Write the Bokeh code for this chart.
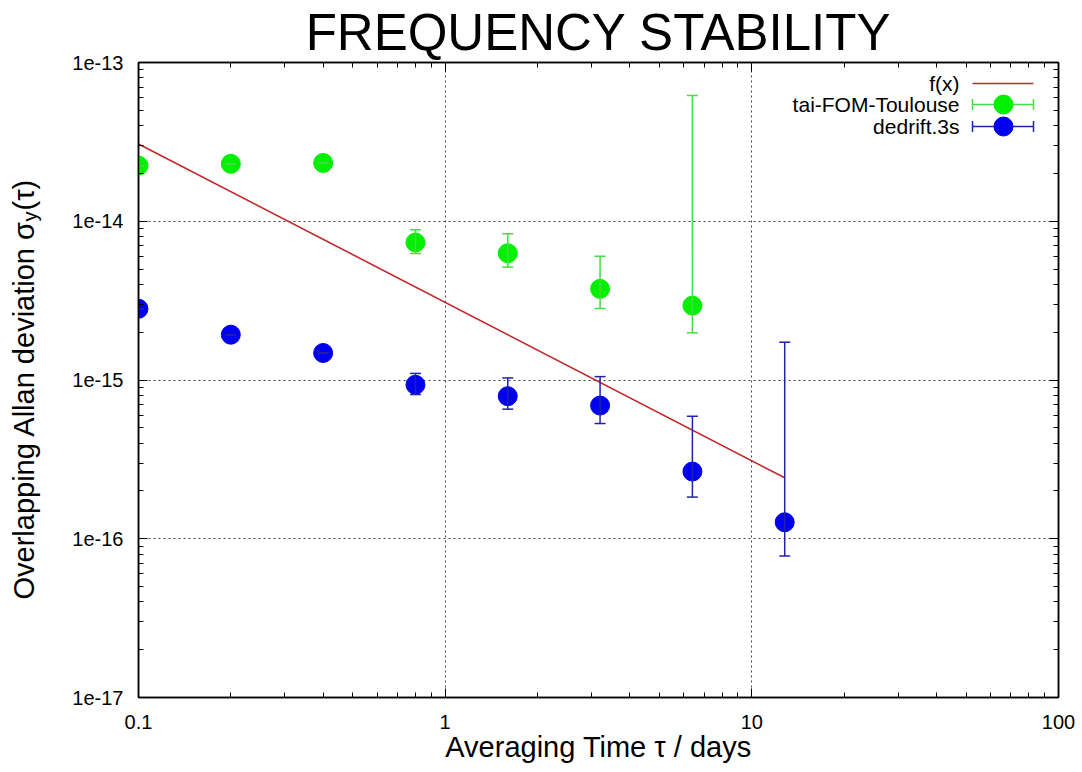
import math
from bokeh.plotting import figure
from bokeh.layouts import row
from bokeh.models import (ColumnDataSource, Whisker, TeeHead, Label, LogAxis,
                          FixedTicker, CustomJSTickFormatter, Range1d, Title)
from bokeh.core.properties import value
from bokeh.embed import file_html
from bokeh.resources import INLINE

# ---------------- data ----------------
title_text = "FREQUENCY STABILITY"
x_label_text = "Averaging Time τ / days"
y_label_main = "Overlapping  Allan deviation σ"
y_label_sub = "y"
y_label_tail = "(τ)"

x_tick_vals = [0.1, 1, 10, 100]
x_tick_labels = ["0.1", "1", "10", "100"]
y_tick_vals = [1e-17, 1e-16, 1e-15, 1e-14, 1e-13]
y_tick_labels = ["1e-17", "1e-16", "1e-15", "1e-14", "1e-13"]

series_names = ["f(x)", "tai-FOM-Toulouse", "dedrift.3s"]

tai_tau = [0.1, 0.2, 0.4, 0.8, 1.6, 3.2, 6.4]
tai_adev = [2.24e-14, 2.30e-14, 2.33e-14, 7.35e-15, 6.29e-15, 3.75e-15, 2.94e-15]
tai_upper = [2.24e-14, 2.30e-14, 2.33e-14, 8.83e-15, 8.34e-15, 6.02e-15, 6.19e-14]
tai_lower = [2.24e-14, 2.30e-14, 2.33e-14, 6.27e-15, 5.14e-15, 2.82e-15, 1.98e-15]

dd_tau = [0.1, 0.2, 0.4, 0.8, 1.6, 3.2, 6.4, 12.8]
dd_adev = [2.81e-15, 1.93e-15, 1.48e-15, 9.33e-16, 7.91e-16, 6.90e-16, 2.65e-16, 1.27e-16]
dd_upper = [2.81e-15, 1.93e-15, 1.48e-15, 1.10e-15, 1.03e-15, 1.05e-15, 5.91e-16, 1.73e-15]
dd_lower = [2.81e-15, 1.93e-15, 1.48e-15, 8.10e-16, 6.55e-16, 5.32e-16, 1.83e-16, 7.80e-17]

fx_tau = [0.1, 12.8]
fx_val = [3.07e-14, 2.42e-16]

# ---------------- style ----------------
FONT = "Liberation Sans"
GREEN = "#00f000"
GREEN_BAR = "#45dd45"
BLUE = "#0000f0"
BLUE_BAR = "#2222a8"
RED = "#c0282a"

LW = 50                                   # width of the y-label strip
FL, FT, FW, FH = 138, 62, 920, 635        # frame position on the page (px)
BOTTOM = 72


def X(px):
    return 10 ** (-1 + (px - FL) / (FW / 3.0))


def Y(py):
    return 10 ** (-13 - (py - FT) / (FH / 4.0))


x_minor = [m * 10.0 ** e for e in range(-1, 2) for m in range(2, 10)]
y_minor = [m * 10.0 ** e for e in range(-17, -13) for m in range(2, 10)]

p = figure(x_axis_type="log", y_axis_type="log",
           x_range=Range1d(0.1, 100), y_range=Range1d(1e-17, 1e-13),
           frame_width=FW, frame_height=FH,
           min_border_left=FL - LW, min_border_right=20,
           min_border_top=FT, min_border_bottom=BOTTOM,
           output_backend="svg", toolbar_location=None,
           background_fill_color="white", border_fill_color="white")

p.outline_line_color = "black"
p.outline_line_width = 1.5

fmt_code = """
let best = 0; let bd = Infinity;
for (let i = 0; i < vals.length; i++) {
  const d = Math.abs(Math.log10(vals[i]) - Math.log10(tick));
  if (d < bd) { bd = d; best = i; }
}
return labels[best];
"""

xa = p.below[0]
xa.ticker = FixedTicker(ticks=x_tick_vals, minor_ticks=x_minor)
xa.formatter = CustomJSTickFormatter(args=dict(vals=x_tick_vals, labels=x_tick_labels), code=fmt_code)
ya = p.left[0]
ya.ticker = FixedTicker(ticks=y_tick_vals, minor_ticks=y_minor)
ya.formatter = CustomJSTickFormatter(args=dict(vals=y_tick_vals, labels=y_tick_labels), code=fmt_code)

top = LogAxis(ticker=FixedTicker(ticks=x_tick_vals, minor_ticks=x_minor))
right = LogAxis(ticker=FixedTicker(ticks=y_tick_vals, minor_ticks=y_minor))

for ax in (xa, ya, top, right):
    ax.major_tick_in = 9
    ax.major_tick_out = 0
    ax.minor_tick_in = 5
    ax.minor_tick_out = 0
    ax.axis_line_color = "black"
    ax.axis_line_width = 1.5
    ax.major_tick_line_color = "black"
    ax.minor_tick_line_color = "black"
    ax.major_tick_line_width = 1
    ax.minor_tick_line_width = 1
    ax.major_label_text_font = FONT
    ax.major_label_text_font_size = "20px"
    ax.major_label_text_color = "black"
xa.major_label_standoff = 17
ya.major_label_standoff = 15
for ax in (top, right):
    ax.major_label_text_font_size = "1px"
    ax.major_label_text_alpha = 0
    ax.major_label_standoff = 0

xa.axis_label = x_label_text
xa.axis_label_text_font = FONT
xa.axis_label_text_font_size = "29px"
xa.axis_label_text_font_style = "normal"
xa.axis_label_text_color = "black"
xa.axis_label_standoff = -1

p.add_layout(top, "above")
p.add_layout(right, "right")

p.title = Title(text=title_text, align="center", text_font=FONT,
                text_font_size="51px", text_font_style="normal",
                text_color="black", standoff=3)

for g in (p.xgrid[0], p.ygrid[0]):
    g.grid_line_color = "#444444"
    g.grid_line_dash = "2 3"
    g.grid_line_width = 1

# ---------------- marks ----------------
p.line(fx_tau, fx_val, line_color=RED, line_width=1.6)

src_tai = ColumnDataSource(dict(x=tai_tau, y=tai_adev, upper=tai_upper, lower=tai_lower))
src_dd = ColumnDataSource(dict(x=dd_tau, y=dd_adev, upper=dd_upper, lower=dd_lower))

for src, col in ((src_tai, GREEN_BAR), (src_dd, BLUE_BAR)):
    w = Whisker(source=src, base="x", upper="upper", lower="lower",
                line_color=col, line_width=1.5, level="glyph",
                upper_head=TeeHead(size=11, line_color=col, line_width=1.5),
                lower_head=TeeHead(size=11, line_color=col, line_width=1.5))
    p.add_layout(w)

p.scatter("x", "y", source=src_tai, size=19, fill_color=GREEN, line_color=GREEN)
p.scatter("x", "y", source=src_dd, size=19, fill_color=BLUE, line_color=BLUE)

# ---------------- legend (gnuplot style: text then sample) ----------------
leg_rows = [83, 104, 126]
for name, rw in zip(series_names, leg_rows):
    p.add_layout(Label(x=X(959), y=Y(rw), text=name, text_align="right",
                       text_baseline="middle", text_font=FONT,
                       text_font_size="21px", text_color="black"))
p.segment(x0=[X(972)], y0=[Y(leg_rows[0])], x1=[X(1033)], y1=[Y(leg_rows[0])],
          line_color=RED, line_width=1.6)
for rw, bar, fill in ((leg_rows[1], GREEN_BAR, GREEN), (leg_rows[2], BLUE_BAR, BLUE)):
    p.segment(x0=[X(972), X(972), X(1033)], y0=[Y(rw), Y(rw - 5.5), Y(rw - 5.5)],
              x1=[X(1033), X(972), X(1033)], y1=[Y(rw), Y(rw + 5.5), Y(rw + 5.5)],
              line_color=bar, line_width=1.5)
    p.scatter([X(1003)], [Y(rw)], size=19, fill_color=fill, line_color=fill)

# ---------------- y label strip: small figure whose frame has the same rows as p ----------------
q = figure(frame_width=LW, frame_height=FH,
           x_range=Range1d(0, LW), y_range=Range1d(0, FH),
           min_border_left=0, min_border_right=0,
           min_border_top=FT, min_border_bottom=BOTTOM,
           x_axis_location=None, y_axis_location=None,
           output_backend="svg", toolbar_location=None,
           background_fill_color="white", border_fill_color="white")
q.outline_line_color = None
q.xgrid.visible = False
q.ygrid.visible = False

YL_BASE = 23
YL_START = 599
main_len = 377


def ytext(px, py, txt, size):
    # px, py: page pixels; the strip's frame spans rows FT..FT+FH
    q.text(x=[px], y=[FT + FH - py], text=[txt], angle=math.pi / 2, text_align="left",
           text_baseline="alphabetic", text_font=value(FONT),
           text_font_size=value(size), text_color="black")


ytext(YL_BASE, YL_START, y_label_main, "29px")
ytext(YL_BASE + 6, YL_START - main_len - 1, y_label_sub, "20px")
ytext(YL_BASE, YL_START - main_len - 12, y_label_tail, "29px")

layout = row(q, p, spacing=0)
open("out.html", "w").write(file_html(layout, INLINE))
